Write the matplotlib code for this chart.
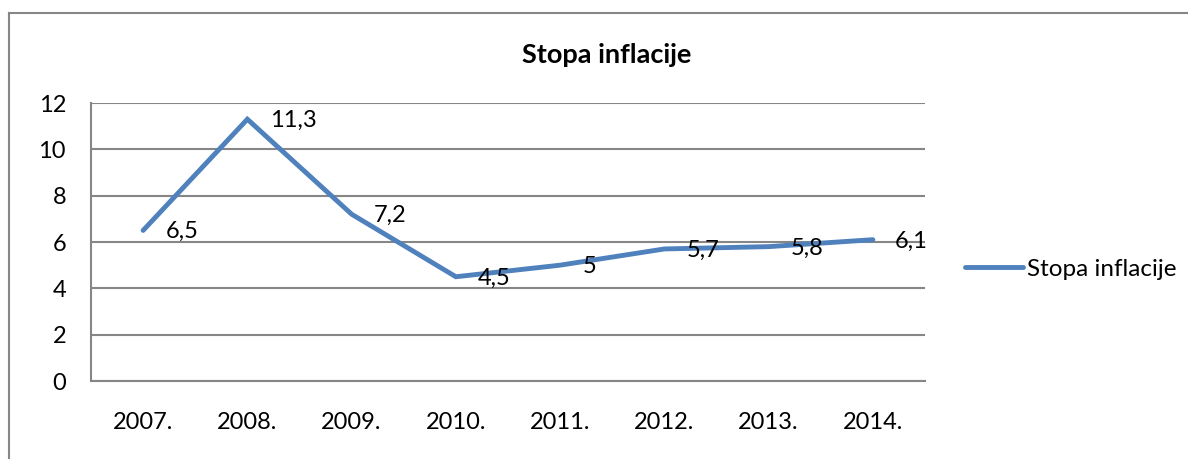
from matplotlib import pyplot as plt
from matplotlib.lines import Line2D

# -------- podaci ----------#
godine = ["2007.", "2008.", "2009.", "2010.", "2011.", "2012.", "2013.", "2014."]
inflacija = [6.5, 11.3, 7.2, 4.5, 5.0, 5.7, 5.8, 6.1]
oznake = ["6,5", "11,3", "7,2", "4,5", "5", "5,7", "5,8", "6,1"]
y_ticks = [0, 2, 4, 6, 8, 10, 12]
naslov = "Stopa inflacije"
# -------- podaci kraj ----------#

plt.rcParams['font.family'] = ['Lato', 'DejaVu Sans']
W, H = 1188, 459
fig = plt.figure(figsize=(W / 100, H / 100), dpi=100)
sivo = "#868686"
plava = "#4F81BD"

# okvir grafikona (desno i dolje odrezano)
fig.add_artist(Line2D([9 / W, 1.0], [1 - 13 / H, 1 - 13 / H], color=sivo, lw=1.5))
fig.add_artist(Line2D([9 / W, 9 / W], [0, 1 - 13 / H], color=sivo, lw=1.5))

ax = fig.add_axes([91 / W, 1 - 381 / H, (925 - 91) / W, (381 - 103) / H])
x = list(range(len(godine)))
ax.plot(x, inflacija, color=plava, lw=3.5, solid_joinstyle='miter',
        solid_capstyle='round', label=naslov, clip_on=False)
for xi, yi, t in zip(x, inflacija, oznake):
    ax.annotate(t, (xi, yi), xytext=(16, -1), textcoords='offset points',
                ha='left', va='center', fontsize=17, color='black')

ax.set_xlim(-0.5, len(godine) - 0.5)
ax.set_ylim(0, 12)
ax.set_yticks(y_ticks)
ax.set_xticks(x)
ax.set_xticklabels(godine)
ax.tick_params(axis='both', length=0, labelsize=17)
ax.tick_params(axis='y', pad=18)
ax.tick_params(axis='x', pad=22)
ax.grid(axis='y', color=sivo, lw=1.5)
ax.set_axisbelow(True)
for s in ['top', 'right']:
    ax.spines[s].set_visible(False)
for s in ['left', 'bottom']:
    ax.spines[s].set_color(sivo)
    ax.spines[s].set_linewidth(1.5)

fig.text(607 / W, 1 - 55 / H, naslov, ha='center', va='center',
         fontsize=19.5, fontweight='bold')

fig.legend(loc='center left', bbox_to_anchor=(943 / W, 1 - 269 / H),
           frameon=False, fontsize=17.5, handlelength=2.4, handletextpad=0.15)

fig.savefig("out.png", dpi=100)
